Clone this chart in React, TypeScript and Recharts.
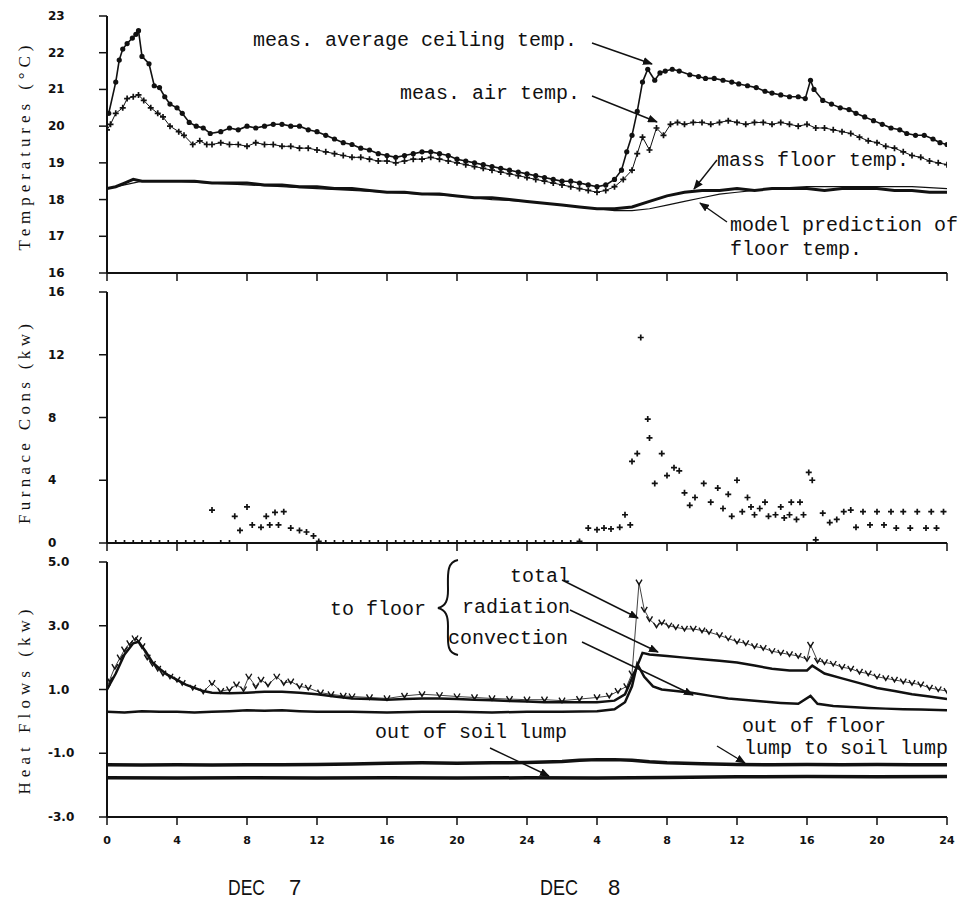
import React from 'react';
import { ComposedChart, Line, XAxis, YAxis } from 'recharts';

type Pt = [number, number];

// hours since midnight Dec 7
const xTicks = [0, 4, 8, 12, 16, 20, 24, 28, 32, 36, 40, 44, 48];
const xTickLabels = ['0', '4', '8', '12', '16', '20', '24', '4', '8', '12', '16', '20', '24'];

const tempTicks = [16, 17, 18, 19, 20, 21, 22, 23];
const tempTickLabels = ['16', '17', '18', '19', '20', '21', '22', '23'];
const furnaceTicks = [0, 4, 8, 12, 16];
const furnaceTickLabels = ['0', '4', '8', '12', '16'];
const heatTicks = [-3, -1, 1, 3, 5];
const heatTickLabels = ['-3.0', '-1.0', '1.0', '3.0', '5.0'];

const ceilingTemp: Pt[] = [
  [0.1, 20.35], [0.5, 21.2], [0.7, 21.8], [0.9, 22.1], [1.15, 22.25], [1.45, 22.4], [1.65, 22.5], [1.8, 22.6],
  [2.0, 21.9], [2.4, 21.7], [2.7, 21.1], [3.0, 21.05], [3.3, 20.8], [3.6, 20.6], [4.0, 20.5], [4.3, 20.35],
  [4.7, 20.1], [5.1, 20.0], [5.5, 19.95], [5.9, 19.8], [6.5, 19.85], [7, 19.95], [7.5, 19.9], [8, 20.0],
  [8.5, 19.95], [9, 20.0], [9.5, 20.05], [10, 20.05], [10.5, 20.0], [11, 20.0], [11.5, 19.9], [12, 19.85],
  [12.5, 19.75], [13, 19.65], [13.5, 19.55], [14, 19.5], [14.5, 19.4], [15, 19.35], [15.5, 19.25], [16, 19.2],
  [16.5, 19.15], [17, 19.2], [17.5, 19.25], [18, 19.3], [18.5, 19.3], [19, 19.25], [19.5, 19.2], [20, 19.1],
  [20.5, 19.05], [21, 19.0], [21.5, 18.95], [22, 18.9], [22.5, 18.85], [23, 18.8], [23.5, 18.75], [24, 18.7],
  [24.5, 18.65], [25, 18.6], [25.5, 18.55], [26, 18.5], [26.5, 18.5], [27, 18.45], [27.5, 18.4], [28, 18.35],
  [28.5, 18.4], [29, 18.55], [29.4, 18.8], [29.7, 19.3], [30.0, 19.75], [30.3, 20.4], [30.6, 21.2], [30.9, 21.55],
  [31.3, 21.25], [31.6, 21.45], [31.9, 21.5], [32.3, 21.55], [32.7, 21.5], [33.3, 21.4], [33.8, 21.35], [34.2, 21.3],
  [34.7, 21.3], [35.2, 21.25], [35.7, 21.2], [36.1, 21.15], [36.6, 21.1], [37.1, 21.05], [37.6, 20.95], [38.0, 20.9],
  [38.5, 20.85], [39.0, 20.8], [39.5, 20.8], [39.9, 20.75], [40.2, 21.25], [40.4, 21.0], [40.9, 20.7], [41.4, 20.6],
  [41.9, 20.5], [42.4, 20.45], [42.8, 20.35], [43.3, 20.25], [43.8, 20.15], [44.3, 20.05], [44.8, 19.95], [45.3, 19.9],
  [45.7, 19.8], [46.2, 19.75], [46.7, 19.75], [47.2, 19.65], [47.6, 19.55], [48, 19.5],
];

const airTemp: Pt[] = [
  [0, 19.9], [0.2, 20.05], [0.5, 20.35], [0.9, 20.5], [1.15, 20.75], [1.5, 20.8], [1.8, 20.85], [2.1, 20.7],
  [2.5, 20.5], [2.9, 20.35], [3.2, 20.25], [3.6, 20.0], [4.1, 19.85], [4.4, 19.75], [4.9, 19.5], [5.3, 19.6],
  [5.7, 19.5], [6, 19.5], [6.5, 19.55], [7, 19.5], [7.5, 19.5], [8, 19.45], [8.5, 19.55], [9, 19.5],
  [9.5, 19.5], [10, 19.45], [10.5, 19.45], [11, 19.4], [11.5, 19.4], [12, 19.35], [12.5, 19.3], [13, 19.25],
  [13.5, 19.2], [14, 19.15], [14.5, 19.15], [15, 19.1], [15.5, 19.05], [16, 19.05], [16.5, 19.0], [17, 19.05],
  [17.5, 19.1], [18, 19.1], [18.5, 19.15], [19, 19.1], [19.5, 19.05], [20, 19.0], [20.5, 18.95], [21, 18.9],
  [21.5, 18.85], [22, 18.8], [22.5, 18.75], [23, 18.7], [23.5, 18.65], [24, 18.6], [24.5, 18.55], [25, 18.5],
  [25.5, 18.45], [26, 18.4], [26.5, 18.35], [27, 18.3], [27.5, 18.25], [28, 18.2], [28.5, 18.25], [29, 18.35],
  [29.5, 18.55], [30, 18.8], [30.3, 19.25], [30.6, 19.7], [31, 19.35], [31.4, 19.95], [31.8, 19.75], [32.2, 20.05],
  [32.6, 20.1], [33, 20.05], [33.5, 20.1], [34, 20.1], [34.5, 20.05], [35, 20.1], [35.5, 20.15], [36, 20.1],
  [36.5, 20.05], [37, 20.1], [37.5, 20.1], [38, 20.05], [38.5, 20.1], [39, 20.05], [39.5, 20.0], [40, 20.05],
  [40.5, 19.95], [41, 19.95], [41.5, 19.9], [42, 19.85], [42.5, 19.8], [43, 19.7], [43.5, 19.6], [44, 19.55],
  [44.5, 19.45], [45, 19.4], [45.5, 19.3], [46, 19.2], [46.5, 19.15], [47, 19.05], [47.5, 19.0], [48, 18.95],
];

const massFloorTemp: Pt[] = [
  [0, 18.3], [0.5, 18.35], [1, 18.45], [1.5, 18.55], [2, 18.5], [3, 18.5], [4, 18.5], [5, 18.5], [6, 18.45],
  [7, 18.45], [8, 18.45], [9, 18.4], [10, 18.4], [11, 18.35], [12, 18.35], [13, 18.3], [14, 18.3], [15, 18.25],
  [16, 18.2], [17, 18.2], [18, 18.15], [19, 18.15], [20, 18.1], [21, 18.05], [22, 18.05], [23, 18.0], [24, 17.95],
  [25, 17.9], [26, 17.85], [27, 17.8], [28, 17.75], [29, 17.75], [30, 17.8], [31, 17.95], [32, 18.1], [33, 18.2],
  [34, 18.25], [35, 18.25], [36, 18.3], [37, 18.25], [38, 18.3], [39, 18.3], [40, 18.3], [41, 18.25], [42, 18.3],
  [43, 18.3], [44, 18.3], [45, 18.25], [46, 18.25], [47, 18.2], [48, 18.2],
];

const modelFloorTemp: Pt[] = [
  [0, 18.3], [1, 18.4], [2, 18.5], [4, 18.5], [6, 18.45], [8, 18.4], [10, 18.35], [12, 18.3], [14, 18.25],
  [16, 18.2], [18, 18.15], [20, 18.1], [22, 18.0], [24, 17.95], [26, 17.85], [28, 17.75], [29, 17.7], [30, 17.7],
  [31, 17.75], [32, 17.85], [33, 17.95], [34, 18.05], [35, 18.15], [36, 18.2], [38, 18.3], [40, 18.35],
  [42, 18.35], [44, 18.35], [46, 18.35], [48, 18.3],
];

const furnaceCons: Pt[] = [
  [0, 0], [0.5, 0], [1, 0], [1.5, 0], [2, 0], [2.5, 0], [3, 0], [3.5, 0], [4, 0], [4.5, 0], [5, 0], [5.5, 0],
  [6.0, 2.1], [6.5, 0], [7, 0], [7.3, 1.7], [7.6, 0.8], [8.0, 2.3], [8.3, 1.15], [8.8, 1.0], [9.1, 1.7], [9.3, 1.15],
  [9.6, 1.95], [9.8, 1.15], [10.1, 2.0], [10.5, 0.95], [11.0, 0.8], [11.4, 0.7], [11.8, 0.45], [12.1, 0.1],
  [12.5, 0], [13, 0], [13.5, 0], [14, 0], [14.5, 0], [15, 0], [15.5, 0], [16, 0], [16.5, 0], [17, 0], [17.5, 0],
  [18, 0], [18.5, 0], [19, 0], [19.5, 0], [20, 0], [20.5, 0], [21, 0], [21.5, 0], [22, 0], [22.5, 0], [23, 0],
  [23.5, 0], [24, 0], [24.5, 0], [25, 0], [25.5, 0], [26, 0], [26.5, 0], [27.0, 0.1],
  [27.5, 0.95], [28.0, 0.85], [28.4, 0.95], [28.8, 0.9], [29.3, 1.0], [29.6, 1.8], [29.9, 1.15], [30.0, 5.2],
  [30.3, 5.7], [30.5, 13.1], [30.9, 7.9], [31.0, 6.7], [31.3, 3.8], [31.7, 5.7], [32.0, 4.3], [32.4, 4.8],
  [32.7, 4.6], [33.0, 3.2], [33.3, 2.4], [33.6, 2.9], [34.1, 3.8], [34.5, 2.6], [34.9, 3.5], [35.2, 2.2],
  [35.5, 3.1], [35.7, 1.7], [36.0, 4.0], [36.3, 2.0], [36.6, 2.9], [36.8, 2.3], [37.0, 1.8], [37.3, 2.2],
  [37.6, 2.6], [37.8, 1.7], [38.2, 1.8], [38.5, 2.3], [38.7, 1.6], [39.0, 1.8], [39.1, 2.6], [39.4, 1.5],
  [39.6, 2.6], [39.8, 1.8], [40.1, 4.5], [40.3, 4.0], [40.5, 0.2], [40.9, 1.9], [41.3, 1.3], [41.7, 1.5],
  [42.1, 2.0], [42.5, 2.1], [42.8, 1.0], [43.2, 2.0], [43.6, 1.15], [44.0, 2.0], [44.4, 1.15], [44.8, 2.0],
  [45.1, 0.95], [45.5, 2.0], [45.9, 0.95], [46.3, 2.0], [46.8, 0.95], [47.1, 2.0], [47.4, 0.95], [47.8, 2.0],
];

const totalToFloor: Pt[] = [
  [0, 1.05], [0.15, 1.3], [0.45, 1.7], [0.75, 2.0], [1.0, 2.25], [1.3, 2.45], [1.6, 2.6], [1.8, 2.55],
  [2.0, 2.35], [2.3, 2.0], [2.6, 1.8], [2.9, 1.65], [3.2, 1.5], [3.6, 1.4], [4.0, 1.3], [4.3, 1.2],
  [4.9, 1.05], [5.5, 0.93], [6.0, 1.2], [6.5, 0.95], [7.0, 1.0], [7.4, 1.15], [7.8, 1.0], [8.1, 1.4],
  [8.5, 1.1], [8.8, 1.3], [9.2, 1.15], [9.7, 1.4], [10.1, 1.2], [10.5, 1.25], [11.0, 1.1], [11.5, 1.05],
  [12.2, 0.9], [12.8, 0.85], [13.5, 0.8], [14, 0.78], [15, 0.75], [16, 0.72], [17, 0.8], [18, 0.85],
  [19, 0.82], [20, 0.78], [21, 0.75], [22, 0.72], [23, 0.7], [24, 0.68], [25, 0.68], [26, 0.65], [27, 0.7],
  [28, 0.75], [28.7, 0.8], [29.2, 0.95], [29.7, 1.1], [30.0, 1.5], [30.4, 4.35], [30.7, 3.5], [31.0, 3.2],
  [31.4, 3.0], [31.7, 3.1], [32.1, 3.0], [32.5, 2.95], [33.0, 2.9], [33.5, 2.9], [34.0, 2.85], [34.4, 2.8],
  [35.0, 2.7], [35.5, 2.6], [36.0, 2.5], [36.5, 2.45], [37.0, 2.35], [37.5, 2.3], [38.0, 2.2], [38.5, 2.15],
  [39.0, 2.1], [39.5, 2.05], [40.0, 1.95], [40.2, 2.4], [40.6, 1.9], [41.0, 1.85], [41.5, 1.8], [42.0, 1.7],
  [42.5, 1.65], [43.0, 1.55], [43.5, 1.5], [44.0, 1.4], [44.5, 1.35], [45.0, 1.3], [45.5, 1.25], [46.0, 1.2],
  [46.5, 1.15], [47.0, 1.05], [47.5, 1.0], [48, 0.95],
];

const radiationToFloor: Pt[] = [
  [0, 1.0], [0.5, 1.5], [1, 2.1], [1.5, 2.45], [1.8, 2.5], [2.2, 2.2], [2.6, 1.85], [3, 1.65], [3.5, 1.45],
  [4, 1.3], [4.5, 1.15], [5, 1.05], [5.5, 0.95], [6, 0.9], [7, 0.88], [8, 0.9], [9, 0.93], [10, 0.93],
  [11, 0.9], [12, 0.85], [13, 0.78], [14, 0.72], [15, 0.7], [16, 0.68], [17, 0.7], [18, 0.72], [19, 0.72],
  [20, 0.7], [21, 0.68], [22, 0.66], [23, 0.64], [24, 0.62], [25, 0.6], [26, 0.6], [27, 0.6], [28, 0.6],
  [29, 0.65], [29.6, 0.85], [30.2, 1.6], [30.6, 2.15], [31, 2.1], [32, 2.05], [33, 2.0], [34, 1.95], [35, 1.9],
  [36, 1.85], [37, 1.75], [38, 1.65], [39, 1.6], [40, 1.6], [40.3, 1.75], [41, 1.5], [42, 1.35], [43, 1.2],
  [44, 1.05], [45, 0.95], [46, 0.85], [47, 0.78], [48, 0.7],
];

const convectionToFloor: Pt[] = [
  [0, 0.3], [1, 0.28], [2, 0.32], [3, 0.3], [4, 0.3], [5, 0.28], [6, 0.3], [7, 0.32], [8, 0.35], [9, 0.33],
  [10, 0.35], [11, 0.32], [12, 0.3], [14, 0.3], [16, 0.28], [18, 0.3], [20, 0.3], [22, 0.28], [24, 0.3],
  [26, 0.3], [28, 0.32], [29, 0.38], [29.6, 0.6], [30.0, 1.1], [30.3, 1.8], [30.7, 1.4], [31.2, 1.1],
  [31.7, 1.0], [32.5, 0.95], [33.4, 0.9], [34.5, 0.8], [35.5, 0.72], [36.5, 0.67], [37.5, 0.62], [38.5, 0.58],
  [39.5, 0.55], [40.2, 0.8], [40.6, 0.55], [41.5, 0.48], [42.5, 0.45], [43.5, 0.42], [44.5, 0.4], [45.5, 0.38],
  [46.5, 0.37], [47.5, 0.36], [48, 0.35],
];

const floorLumpToSoil: Pt[] = [
  [0, -1.36], [2, -1.37], [4, -1.36], [6, -1.37], [8, -1.36], [10, -1.36], [12, -1.35], [14, -1.34],
  [16, -1.31], [18, -1.3], [20, -1.31], [22, -1.3], [24, -1.29], [26, -1.26], [27, -1.22], [28, -1.2],
  [29, -1.2], [30, -1.22], [31, -1.27], [32, -1.3], [34, -1.33], [36, -1.35], [38, -1.36], [40, -1.35],
  [42, -1.36], [44, -1.35], [46, -1.36], [48, -1.36],
];

const outOfSoilLump: Pt[] = [
  [0, -1.77], [4, -1.78], [8, -1.77], [12, -1.78], [16, -1.77], [20, -1.78], [24, -1.77], [28, -1.78],
  [32, -1.76], [36, -1.74], [40, -1.73], [44, -1.74], [48, -1.73],
];

const rows = (pts: Pt[]) => pts.map(([t, v]) => ({ t, v }));

const INK = '#111';

const circleDot = (p: any) => (
  <circle key={`c${p.index}`} cx={p.cx} cy={p.cy} r={2.6} fill={INK} />
);
const plusDot = (p: any) => (
  <path key={`p${p.index}`} d={`M${p.cx - 3},${p.cy}h6M${p.cx},${p.cy - 3}v6`} stroke={INK} strokeWidth={1.7} fill="none" />
);
const veeDot = (p: any) => (
  <path key={`v${p.index}`} d={`M${p.cx - 3},${p.cy - 3}L${p.cx},${p.cy + 2}L${p.cx + 3},${p.cy - 3}`} stroke={INK} strokeWidth={1.4} fill="none" />
);

const yTick = (ticks: number[], labels: string[]) => (p: any) => (
  <text x={48} y={p.y} dy={4} textAnchor="start" fontSize={12} fontWeight="bold" fontFamily="'DejaVu Sans', sans-serif" fill={INK}>
    {labels[ticks.indexOf(p.payload.value)]}
  </text>
);
const xTick = (p: any) => (
  <text x={p.x} y={p.y} dy={17} textAnchor="middle" fontSize={11} fontWeight="bold" fontFamily="'DejaVu Sans', sans-serif" fill={INK}>
    {xTickLabels[xTicks.indexOf(p.payload.value)]}
  </text>
);
const noTick = () => <g />;

type PanelProps = {
  top: number;
  height: number;
  marginTop: number;
  marginBottom: number;
  xHeight: number;
  domain: [number, number];
  ticks: number[];
  labels: string[];
  xLabels?: boolean;
  children: React.ReactNode;
};

function Panel({ top, height, marginTop, marginBottom, xHeight, domain, ticks, labels, xLabels, children }: PanelProps) {
  return (
    <div style={{ position: 'absolute', left: 0, top, width: 966, height }}>
      <ComposedChart width={966} height={height} margin={{ top: marginTop, right: 19, bottom: marginBottom, left: 47 }}>
        <XAxis
          type="number"
          dataKey="t"
          domain={[0, 48]}
          ticks={xTicks}
          interval={0}
          allowDataOverflow
          height={xHeight}
          tickSize={8}
          axisLine={{ stroke: INK, strokeWidth: 2 }}
          tickLine={{ stroke: INK, strokeWidth: 1.5 }}
          tick={xLabels ? xTick : noTick}
        />
        <YAxis
          type="number"
          dataKey="v"
          domain={domain}
          ticks={ticks}
          interval={0}
          allowDataOverflow
          width={60}
          tickSize={8}
          axisLine={{ stroke: INK, strokeWidth: 2 }}
          tickLine={{ stroke: INK, strokeWidth: 1.5 }}
          tick={yTick(ticks, labels)}
        />
        {children}
      </ComposedChart>
    </div>
  );
}

export default function App() {
  const mono = "'Liberation Mono', 'DejaVu Sans Mono', monospace";
  const serif = "'Liberation Serif', 'DejaVu Serif', serif";
  return (
    <div style={{ position: 'absolute', left: 0, top: 0, width: 966, height: 907, background: '#fff' }}>
      <Panel top={0} height={300} marginTop={16} marginBottom={7} xHeight={20} domain={[16, 23]} ticks={tempTicks} labels={tempTickLabels}>
        <Line data={rows(modelFloorTemp)} dataKey="v" stroke={INK} strokeWidth={1.2} dot={false} activeDot={false} isAnimationActive={false} />
        <Line data={rows(massFloorTemp)} dataKey="v" stroke={INK} strokeWidth={3} dot={false} activeDot={false} isAnimationActive={false} />
        <Line data={rows(airTemp)} dataKey="v" stroke={INK} strokeWidth={1} dot={plusDot} activeDot={false} isAnimationActive={false} />
        <Line data={rows(ceilingTemp)} dataKey="v" stroke={INK} strokeWidth={1.6} dot={circleDot} activeDot={false} isAnimationActive={false} />
      </Panel>

      <Panel top={280} height={280} marginTop={12} marginBottom={5} xHeight={12} domain={[0, 16]} ticks={furnaceTicks} labels={furnaceTickLabels}>
        <Line data={rows(furnaceCons)} dataKey="v" stroke="none" dot={plusDot} activeDot={false} isAnimationActive={false} />
      </Panel>

      <Panel top={550} height={357} marginTop={12} marginBottom={60} xHeight={30} domain={[-3, 5]} ticks={heatTicks} labels={heatTickLabels} xLabels>
        <Line data={rows(outOfSoilLump)} dataKey="v" stroke={INK} strokeWidth={3.5} dot={false} activeDot={false} isAnimationActive={false} />
        <Line data={rows(floorLumpToSoil)} dataKey="v" stroke={INK} strokeWidth={3.5} dot={false} activeDot={false} isAnimationActive={false} />
        <Line data={rows(convectionToFloor)} dataKey="v" stroke={INK} strokeWidth={2.5} dot={false} activeDot={false} isAnimationActive={false} />
        <Line data={rows(radiationToFloor)} dataKey="v" stroke={INK} strokeWidth={2.5} dot={false} activeDot={false} isAnimationActive={false} />
        <Line data={rows(totalToFloor)} dataKey="v" stroke={INK} strokeWidth={0.8} dot={veeDot} activeDot={false} isAnimationActive={false} />
      </Panel>

      <svg width={966} height={907} style={{ position: 'absolute', left: 0, top: 0, pointerEvents: 'none' }}>
        <defs>
          <marker id="ah" markerWidth={10} markerHeight={8} refX={9} refY={4} orient="auto" markerUnits="userSpaceOnUse">
            <path d="M0,0 L10,4 L0,8 z" fill={INK} />
          </marker>
        </defs>

        {/* axis titles */}
        <g fontFamily={serif} fontSize={17} fill={INK}>
          <text transform="translate(30,148) rotate(-90)" textAnchor="middle" textLength={205} lengthAdjust="spacing">Temperatures (°C)</text>
          <text transform="translate(30,424) rotate(-90)" textAnchor="middle" textLength={200} lengthAdjust="spacing">Furnace Cons (kw)</text>
          <text transform="translate(30,702) rotate(-90)" textAnchor="middle" textLength={185} lengthAdjust="spacing">Heat Flows (kw)</text>
        </g>

        {/* annotations */}
        <g fontFamily={mono} fontSize={20} fill={INK}>
          <text x={253} y={46}>meas. average ceiling temp.</text>
          <text x={400} y={99}>meas. air temp.</text>
          <text x={717} y={166}>mass floor temp.</text>
          <text x={730} y={231}>model prediction of</text>
          <text x={730} y={255}>floor temp.</text>
          <text x={330} y={615}>to floor</text>
          <text x={510} y={582}>total</text>
          <text x={462} y={613}>radiation</text>
          <text x={448} y={644}>convection</text>
          <text x={375} y={738}>out of soil lump</text>
          <text x={742} y={732}>out of floor</text>
          <text x={744} y={754}>lump to soil lump</text>
        </g>
        <g stroke={INK} strokeWidth={1.4} fill="none">
          <line x1={592} y1={43} x2={652} y2={64} markerEnd="url(#ah)" />
          <line x1={592} y1={96} x2={657} y2={122} markerEnd="url(#ah)" />
          <line x1={717} y1={160} x2={694} y2={189} markerEnd="url(#ah)" />
          <line x1={727} y1={222} x2={700} y2={203} markerEnd="url(#ah)" />
          <line x1={562} y1={580} x2={638} y2={618} markerEnd="url(#ah)" />
          <line x1={570} y1={610} x2={658} y2={652} markerEnd="url(#ah)" />
          <line x1={582} y1={642} x2={693} y2={695} markerEnd="url(#ah)" />
          <line x1={490} y1={748} x2={549} y2={776} markerEnd="url(#ah)" />
          <line x1={717} y1={746} x2={745} y2={763} markerEnd="url(#ah)" />
          <path d="M458,560 C446,562 448,576 448,590 C448,600 446,606 438,608 C446,610 448,616 448,626 C448,642 446,653 458,655" strokeWidth={2} />
        </g>

        {/* day labels */}
        <g fontFamily="'Liberation Sans', sans-serif" fontSize={22} fill={INK}>
          <text x={228} y={895} textLength={37} lengthAdjust="spacingAndGlyphs">DEC</text>
          <text x={289} y={895}>7</text>
          <text x={540} y={895} textLength={38} lengthAdjust="spacingAndGlyphs">DEC</text>
          <text x={608} y={895}>8</text>
        </g>
      </svg>
    </div>
  );
}
